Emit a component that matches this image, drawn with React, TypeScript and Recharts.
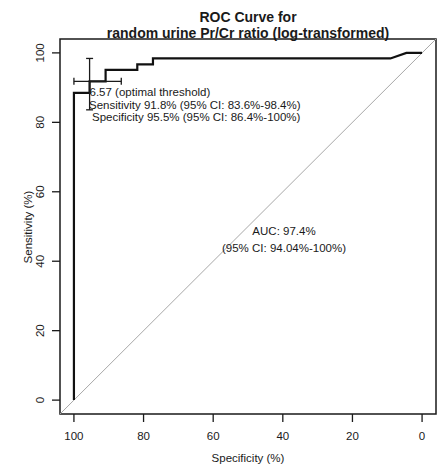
import {
  ComposedChart,
  Line,
  Scatter,
  ErrorBar,
  XAxis,
  YAxis,
  ReferenceArea,
  ReferenceLine,
} from "recharts";

// ROC curve steps (specificity %, sensitivity %)
const rocSpec = [100, 100, 95.5, 95.5, 90.9, 90.9, 81.8, 81.8, 77.3, 77.3, 9.1, 4.5, 0];
const rocSens = [0, 88.5, 88.5, 91.8, 91.8, 95.1, 95.1, 96.7, 96.7, 98.4, 98.4, 100, 100];

// optimal threshold with 95% CI
const cutSpec = 95.5;
const cutSens = 91.8;
const cutSpecCI = [86.4, 100];
const cutSensCI = [83.6, 98.4];

const axisTicks = [0, 20, 40, 60, 80, 100];
const plotRange = [-4, 104];

const rocData = rocSpec.map((s, i) => ({ spec: s, sens: rocSens[i] }));
const cutData = [
  {
    spec: cutSpec,
    sens: cutSens,
    errX: [cutSpec - cutSpecCI[0], cutSpecCI[1] - cutSpec],
    errY: [cutSens - cutSensCI[0], cutSensCI[1] - cutSens],
  },
];

const FONT = '"Liberation Sans", Arial, Helvetica, sans-serif';
const INK = "#1a1a1a";

const XTick = ({ x, y, payload }: any) => (
  <text x={x} y={y} dy={16} textAnchor="middle" fontSize={11.5} fontFamily={FONT} fill={INK}>
    {payload.value}
  </text>
);

const YTick = ({ x, y, payload }: any) => (
  <text
    x={x - 6}
    y={y}
    textAnchor="middle"
    fontSize={11.5}
    fontFamily={FONT}
    fill={INK}
    transform={`rotate(-90, ${x - 6}, ${y})`}
  >
    {payload.value}
  </text>
);

export default function App() {
  return (
    <div style={{ position: "absolute", left: 0, top: 0, width: 440, height: 467, background: "#fff" }}>
      <ComposedChart width={440} height={467} margin={{ top: 39, right: 4, bottom: 0, left: 0 }}>
        <XAxis
          type="number"
          dataKey="spec"
          domain={plotRange}
          reversed
          ticks={axisTicks}
          tick={<XTick />}
          tickSize={8}
          tickMargin={2}
          axisLine={false}
          tickLine={{ stroke: INK, strokeWidth: 1.3 }}
          height={53}
          interval={0}
        />
        <YAxis
          type="number"
          dataKey="sens"
          domain={plotRange}
          ticks={axisTicks}
          tick={<YTick />}
          tickSize={8}
          tickMargin={2}
          axisLine={false}
          tickLine={{ stroke: INK, strokeWidth: 1.3 }}
          width={60}
          interval={0}
        />
        <ReferenceLine
          segment={[
            { x: plotRange[1], y: plotRange[0] },
            { x: plotRange[0], y: plotRange[1] },
          ]}
          stroke="#a8a8a8"
          strokeWidth={1}
          ifOverflow="visible"
        />
        <Line
          data={rocData}
          dataKey="sens"
          type="linear"
          stroke="#111"
          strokeWidth={2.2}
          dot={false}
          activeDot={false}
          isAnimationActive={false}
        />
        <Scatter data={cutData} dataKey="sens" shape={() => <g />} isAnimationActive={false}>
          <ErrorBar dataKey="errX" direction="x" width={3.5} stroke={INK} strokeWidth={1.3} />
          <ErrorBar dataKey="errY" direction="y" width={3.5} stroke={INK} strokeWidth={1.3} />
        </Scatter>
        <ReferenceArea
          x1={plotRange[0]}
          x2={plotRange[1]}
          y1={plotRange[0]}
          y2={plotRange[1]}
          fill="none"
          stroke={INK}
          strokeWidth={1.5}
          ifOverflow="visible"
        />
      </ComposedChart>
      <svg
        width={440}
        height={467}
        style={{ position: "absolute", left: 0, top: 0, pointerEvents: "none" }}
        fontFamily={FONT}
        fill={INK}
      >
        <text x={248} y={22} textAnchor="middle" fontSize={14} fontWeight="bold">
          ROC Curve for
        </text>
        <text x={248} y={37.5} textAnchor="middle" fontSize={14} fontWeight="bold">
          random urine Pr/Cr ratio (log-transformed)
        </text>
        <text x={89.5} y={96} fontSize={11.5}>6.57 (optimal threshold)</text>
        <text x={89} y={108.5} fontSize={11.5}>Sensitivity 91.8% (95% CI: 83.6%-98.4%)</text>
        <text x={92} y={121} fontSize={11.5}>Specificity 95.5% (95% CI: 86.4%-100%)</text>
        <text x={284} y={235} textAnchor="middle" fontSize={11.5}>AUC: 97.4%</text>
        <text x={284} y={251.5} textAnchor="middle" fontSize={11.5}>(95% CI: 94.04%-100%)</text>
        <text x={248} y={462} textAnchor="middle" fontSize={11.5}>Specificity (%)</text>
        <text x={32} y={227} textAnchor="middle" fontSize={11.5} transform="rotate(-90, 32, 227)">
          Sensitivity (%)
        </text>
      </svg>
    </div>
  );
}
